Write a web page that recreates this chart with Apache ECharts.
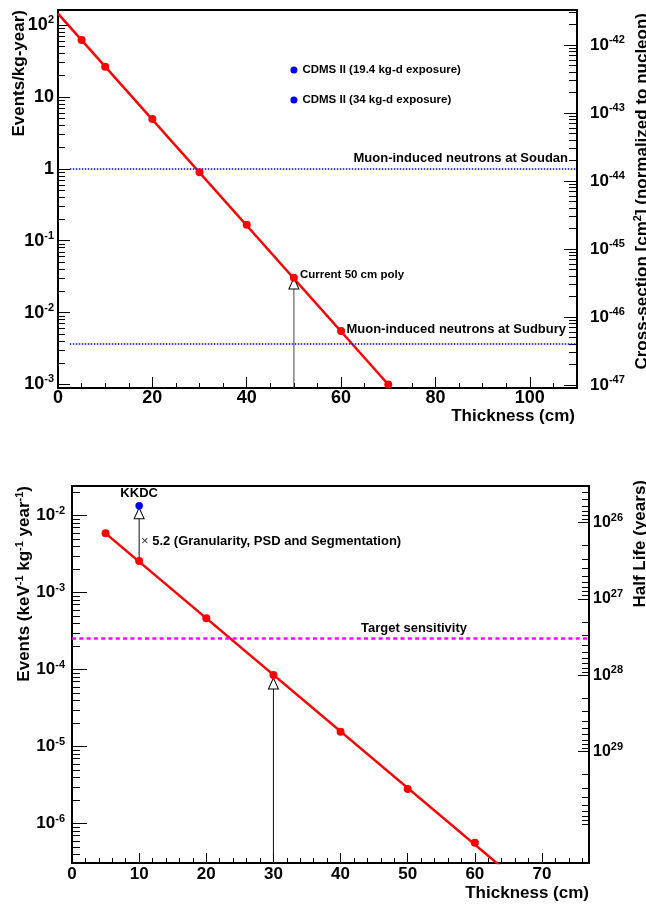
<!DOCTYPE html>
<html>
<head>
<meta charset="utf-8">
<script src="https://cdn.jsdelivr.net/npm/echarts@6/dist/echarts.min.js"></script>
<style>html,body{margin:0;padding:0;background:#fff}#c{width:646px;height:905px}</style>
</head>
<body>
<div id="c"></div>
<script>
const FONT = '"Liberation Sans", Arial, Helvetica, sans-serif';

// ---------- top panel data ----------
const topThickness = [5, 10, 20, 30, 40, 50, 60, 70];
const topEvents = [61.8, 26.3, 4.93, 0.894, 0.167, 0.0306, 0.00555, 0.001];
const topFitThickness = [0, 70];
const topFitEvents = [144, 0.001];
const cdmsThickness = [50, 50];
const cdmsEvents = [23.7, 9.06];
const cdmsLabels = ['CDMS II (19.4 kg-d exposure)', 'CDMS II (34 kg-d exposure)'];
const muonLevels = [1.0, 0.00374];
const muonLabels = ['Muon-induced neutrons at Soudan', 'Muon-induced neutrons at Sudbury'];
const muonRange = [2.5, 110];
const polyArrowThickness = 50;
const polyArrowTip = 0.0303;
const polyLabel = 'Current 50 cm poly';
const topXRange = [0, 110];
const topYRange = [8.93e-4, 162];
const topRightExpRange = [-47.044, -41.485];
const topRightTicks = [-47, -46, -45, -44, -43, -42];

// ---------- bottom panel data ----------
const botThickness = [5, 10, 20, 30, 40, 50, 60];
const botEvents = [5.9e-3, 2.58e-3, 4.66e-4, 8.53e-5, 1.57e-5, 2.83e-6, 5.66e-7];
const botFitThickness = [5, 65];
const botFitEvents = [5.9e-3, 2.3e-7];
const kkdcThickness = [10];
const kkdcEvents = [0.0135];
const kkdcLabel = 'KKDC';
const kkdcArrowThickness = 10;
const kkdcArrowEvents = [2.58e-3, 0.0127];
const sensArrowThickness = 30;
const sensArrowTip = 7.8e-5;
const targetLevel = 2.56e-4;
const targetRange = [0, 77];
const targetLabel = 'Target sensitivity';
const granularityFactor = '×';
const granularityText = '5.2 (Granularity, PSD and Segmentation)';
const granularityThickness = [10.2];
const granularityEvents = [4.69e-3];
const botXRange = [0, 77];
const botYRange = [3.09e-7, 0.0243];
const botRightExpRange = [25.519, 30.46];
const botRightTicks = [26, 27, 28, 29];

// ---------- helpers ----------
const zip = (a, b) => a.map((v, i) => [v, b[i]]);
const bold = { fontFamily: FONT, fontWeight: 'bold', color: '#000' };
function supRich(base, sup) {
  return {
    b: Object.assign({}, bold, { fontSize: base }),
    s: Object.assign({}, bold, { fontSize: sup, padding: [0, 0, 10, 0] })
  };
}
function logFormatter(simple) {
  return function (v) {
    const e = Math.log10(v), n = Math.round(e);
    if (Math.abs(e - n) > 1e-6) return '';
    if (simple && n === 0) return '{b|1}';
    if (simple && n === 1) return '{b|10}';
    return '{b|10}{s|' + n + '}';
  };
}
function minorExps(lo, hi, nMax) {
  const out = [];
  const top = nMax === undefined ? Math.ceil(hi) : nMax;
  for (let n = Math.floor(lo); n <= top; n++) {
    for (let k = 2; k <= 9; k++) {
      const e = n + Math.log10(k);
      if (e > lo && e < hi) out.push(e);
    }
  }
  return out;
}
const black = { color: '#000', width: 1 };
const axisLineStyle = { show: true, onZero: false, lineStyle: { color: '#000', width: 2 } };

function xAxisDef(grid, range, interval, minorSplit, tickLen, labelSize, margin, nameGap, namePad) {
  return {
    gridIndex: grid, type: 'value', min: range[0], max: range[1], interval: interval,
    axisLine: axisLineStyle,
    axisTick: { show: true, inside: true, length: tickLen, lineStyle: black },
    minorTick: { show: true, splitNumber: minorSplit, length: 5, lineStyle: black },
    splitLine: { show: false }, minorSplitLine: { show: false },
    axisLabel: Object.assign({}, bold, { fontSize: labelSize, margin: margin, showMaxLabel: false }),
    name: 'Thickness (cm)', nameLocation: 'end', nameGap: nameGap, nameMoveOverlap: false,
    nameTextStyle: Object.assign({}, bold, { fontSize: 17, align: 'right', verticalAlign: 'top', padding: [namePad, 0, 0, 0] })
  };
}
function minorAxis(grid, pos, range, ticks, len, inverse) {
  return {
    gridIndex: grid, type: 'value', position: pos, min: range[0], max: range[1], inverse: !!inverse,
    axisLine: { show: false, onZero: false },
    axisTick: { show: true, inside: true, length: len, customValues: ticks, lineStyle: black },
    axisLabel: { show: false }, splitLine: { show: false }
  };
}
const solid = { opacity: 1 };

const topLeftExp = [Math.log10(topYRange[0]), Math.log10(topYRange[1])];
const botLeftExp = [Math.log10(botYRange[0]), Math.log10(botYRange[1])];

const option = {
  animation: false,
  backgroundColor: '#fff',
  grid: [
    { left: 58, top: 10, width: 519, height: 378, show: true, borderColor: '#000', borderWidth: 2, backgroundColor: 'transparent', outerBoundsMode: 'none' },
    { left: 72, top: 486, width: 517, height: 377, show: true, borderColor: '#000', borderWidth: 2, backgroundColor: 'transparent', outerBoundsMode: 'none' }
  ],
  xAxis: [
    xAxisDef(0, topXRange, 20, 4, 11, 18, 1, -2, 20),
    xAxisDef(1, botXRange, 10, 5, 10, 17, 3, 0, 22)
  ],
  yAxis: [
    // 0: top left (data, log)
    {
      gridIndex: 0, type: 'log', position: 'left', min: topYRange[0], max: topYRange[1],
      axisLine: axisLineStyle,
      axisTick: { show: true, inside: true, length: 12, lineStyle: black },
      minorTick: { show: false }, splitLine: { show: false },
      axisLabel: { formatter: logFormatter(true), rich: supRich(18, 11), margin: 4 },
      name: 'Events/kg-year)', nameLocation: 'end', nameRotate: 90, nameGap: 0, nameMoveOverlap: false,
      nameTextStyle: Object.assign({}, bold, { fontSize: 17, align: 'right', verticalAlign: 'bottom', padding: [0, 0, 30, 0] })
    },
    // 1: top left minor ticks
    minorAxis(0, 'left', topLeftExp, minorExps(topLeftExp[0], topLeftExp[1]), 7),
    // 2: top right (cross-section)
    {
      gridIndex: 0, type: 'value', position: 'right', min: topRightExpRange[0], max: topRightExpRange[1],
      axisLine: axisLineStyle,
      axisTick: { show: true, inside: true, length: 13, customValues: topRightTicks, lineStyle: black },
      splitLine: { show: false },
      axisLabel: { customValues: topRightTicks, formatter: v => '{b|10}{s|' + v + '}', rich: supRich(17, 11), margin: 13 },
      name: '{t|Cross-section [cm}{s|2}{t|] (normalized to nucleon)}',
      nameLocation: 'end', nameRotate: 90, nameGap: -3, nameMoveOverlap: false,
      nameTextStyle: {
        align: 'right', verticalAlign: 'top', padding: [55, 0, 0, 0],
        rich: {
          t: Object.assign({}, bold, { fontSize: 17 }),
          s: Object.assign({}, bold, { fontSize: 11, padding: [0, 0, 10, 0] })
        }
      }
    },
    // 3: top right minor ticks
    minorAxis(0, 'right', topRightExpRange, minorExps(topRightExpRange[0], topRightExpRange[1]), 8),
    // 4: bottom left (data, log)
    {
      gridIndex: 1, type: 'log', position: 'left', min: botYRange[0], max: botYRange[1],
      axisLine: axisLineStyle,
      axisTick: { show: true, inside: true, length: 15, lineStyle: black },
      minorTick: { show: false }, splitLine: { show: false },
      axisLabel: { formatter: logFormatter(false), rich: supRich(17, 11), margin: 7 },
      name: '{t|Events (keV}{s|-1}{t| kg}{s|-1}{t| year}{s|-1}{t|)}',
      nameLocation: 'end', nameRotate: 90, nameGap: 0, nameMoveOverlap: false,
      nameTextStyle: {
        align: 'right', verticalAlign: 'bottom', padding: [0, 0, 37, 0],
        rich: {
          t: Object.assign({}, bold, { fontSize: 17 }),
          s: Object.assign({}, bold, { fontSize: 11, padding: [0, 0, 10, 0] })
        }
      }
    },
    // 5: bottom left minor ticks
    minorAxis(1, 'left', botLeftExp, minorExps(botLeftExp[0], botLeftExp[1]), 8),
    // 6: bottom right (half life, inverse)
    {
      gridIndex: 1, type: 'value', position: 'right', inverse: true, min: botRightExpRange[0], max: botRightExpRange[1],
      axisLine: axisLineStyle,
      axisTick: { show: true, inside: true, length: 11, customValues: botRightTicks, lineStyle: black },
      splitLine: { show: false },
      axisLabel: { customValues: botRightTicks, formatter: v => '{b|10}{s|' + v + '}', rich: supRich(16, 11), margin: 4 },
      name: 'Half Life (years)', nameLocation: 'start', nameRotate: 90, nameGap: 6, nameMoveOverlap: false,
      nameTextStyle: Object.assign({}, bold, { fontSize: 17, align: 'right', verticalAlign: 'top', padding: [43, 0, 0, 0] })
    },
    // 7: bottom right minor ticks
    minorAxis(1, 'right', botRightExpRange, minorExps(botRightExpRange[0], botRightExpRange[1], 29), 7, true)
  ],
  series: [
    // ---- top ----
    {
      type: 'line', xAxisIndex: 0, yAxisIndex: 0, data: zip(topFitThickness, topFitEvents),
      symbol: 'none', lineStyle: { color: '#ff0000', width: 2.5 }, z: 3, silent: true,
      markLine: {
        symbol: 'none', silent: true, animation: false,
        data: muonLevels.map((lv, i) => [
          {
            coord: [muonRange[0], lv],
            lineStyle: { color: '#0000ff', width: 1.5, type: [1.5, 1.5] },
            label: Object.assign({}, bold, { show: true, position: 'insideEndTop', formatter: muonLabels[i], fontSize: 13, distance: i === 0 ? [9, 4] : [11, 7] })
          },
          { coord: [muonRange[1], lv] }
        ])
      }
    },
    {
      type: 'line', xAxisIndex: 0, yAxisIndex: 0,
      data: [[polyArrowThickness, topYRange[0]], [polyArrowThickness, polyArrowTip]],
      symbol: 'none', lineStyle: { color: '#444', width: 1 }, z: 2, silent: true
    },
    {
      type: 'scatter', xAxisIndex: 0, yAxisIndex: 0, data: [[polyArrowThickness, polyArrowTip]],
      symbol: 'triangle', symbolSize: [10, 11], symbolOffset: [0, '50%'],
      itemStyle: { color: '#fff', borderColor: '#000', borderWidth: 1, opacity: 1 }, z: 4, silent: true
    },
    {
      type: 'scatter', xAxisIndex: 0, yAxisIndex: 0,
      data: topThickness.map((x, i) => x === polyArrowThickness ? {
        value: [x, topEvents[i]],
        label: Object.assign({}, bold, { show: true, formatter: polyLabel, position: 'right', distance: 2, offset: [0, -3], fontSize: 11.5, opacity: 1 })
      } : [x, topEvents[i]]),
      symbol: 'circle', symbolSize: 8, itemStyle: { color: '#ff0000', opacity: 1 }, z: 5, silent: true
    },
    {
      type: 'scatter', xAxisIndex: 0, yAxisIndex: 0, data: zip(cdmsThickness, cdmsEvents),
      symbol: 'circle', symbolSize: 7, itemStyle: { color: '#0000ff', opacity: 1 }, z: 5, silent: true,
      label: Object.assign({}, bold, { show: true, formatter: p => cdmsLabels[p.dataIndex], position: 'right', distance: 5, fontSize: 11.5, opacity: 1 })
    },
    // ---- bottom ----
    {
      type: 'line', xAxisIndex: 1, yAxisIndex: 4, data: zip(botFitThickness, botFitEvents),
      symbol: 'none', lineStyle: { color: '#ff0000', width: 2.5 }, z: 3, silent: true,
      markLine: {
        symbol: 'none', silent: true, animation: false,
        data: [[
          {
            coord: [targetRange[0], targetLevel],
            lineStyle: { color: '#ff00ff', width: 2.5, type: [4, 3.3] },
            label: Object.assign({}, bold, { show: true, position: 'insideEndTop', formatter: targetLabel, fontSize: 13, distance: [122, 3] })
          },
          { coord: [targetRange[1], targetLevel] }
        ]]
      }
    },
    {
      type: 'line', xAxisIndex: 1, yAxisIndex: 4,
      data: zip([kkdcArrowThickness, kkdcArrowThickness], kkdcArrowEvents),
      symbol: 'none', lineStyle: { color: '#111', width: 1 }, z: 2, silent: true
    },
    {
      type: 'line', xAxisIndex: 1, yAxisIndex: 4,
      data: [[sensArrowThickness, botYRange[0]], [sensArrowThickness, sensArrowTip]],
      symbol: 'none', lineStyle: { color: '#111', width: 1 }, z: 2, silent: true
    },
    {
      type: 'scatter', xAxisIndex: 1, yAxisIndex: 4,
      data: [[kkdcArrowThickness, kkdcArrowEvents[1]], [sensArrowThickness, sensArrowTip]],
      symbol: 'triangle', symbolSize: [10, 11], symbolOffset: [0, '50%'],
      itemStyle: { color: '#fff', borderColor: '#000', borderWidth: 1, opacity: 1 }, z: 4, silent: true
    },
    {
      type: 'scatter', xAxisIndex: 1, yAxisIndex: 4, data: zip(botThickness, botEvents),
      symbol: 'circle', symbolSize: 8, itemStyle: { color: '#ff0000', opacity: 1 }, z: 5, silent: true
    },
    {
      type: 'scatter', xAxisIndex: 1, yAxisIndex: 4, data: zip(kkdcThickness, kkdcEvents),
      symbol: 'circle', symbolSize: 7.5, itemStyle: { color: '#0000ff', opacity: 1 }, z: 6, silent: true,
      label: Object.assign({}, bold, { show: true, formatter: kkdcLabel, position: 'top', distance: 2, fontSize: 13, opacity: 1 })
    },
    {
      type: 'scatter', xAxisIndex: 1, yAxisIndex: 4, data: zip(granularityThickness, granularityEvents),
      symbol: 'circle', symbolSize: 1, itemStyle: { color: 'rgba(0,0,0,0)', opacity: 1 }, z: 6, silent: true,
      label: {
        show: true, position: 'right', distance: 0, opacity: 1,
        formatter: '{m|' + granularityFactor + '}{t| ' + granularityText + '}',
        rich: {
          m: { fontFamily: FONT, fontSize: 13, color: '#333' },
          t: Object.assign({}, bold, { fontSize: 13 })
        }
      }
    }
  ]
};

const chart = echarts.init(document.getElementById('c'), null, { renderer: 'canvas', width: 646, height: 905 });
chart.setOption(option);
</script>
</body>
</html>
